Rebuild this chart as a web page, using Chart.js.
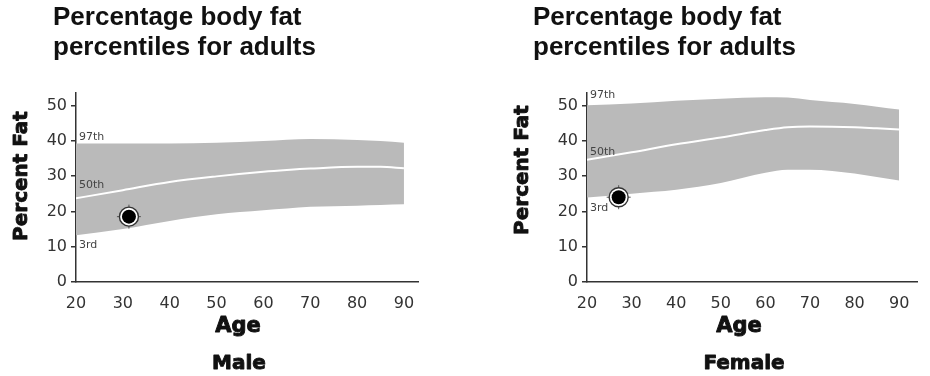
<!DOCTYPE html>
<html>
<head>
<meta charset="utf-8">
<script src="https://cdn.jsdelivr.net/npm/chart.js@4.4.1/dist/chart.umd.min.js"></script>
<style>
  body { margin: 0; background: #fff; }
  .panel { position: absolute; top: 0; }
</style>
</head>
<body>
<div class="panel" style="left:0"><canvas id="male" width="465" height="376"></canvas></div>
<div class="panel" style="left:465px"><canvas id="female" width="465" height="376"></canvas></div>
<script>
// ages where the percentile curves are sampled
const AGES = [20, 30, 40, 50, 60, 65, 70, 80, 85, 90]

// male percentiles (% body fat)
const MALE_P97 = [39.2, 39.2, 39.2, 39.4, 39.9, 40.3, 40.5, 40.2, 39.9, 39.4]
const MALE_P50 = [23.7, 26.0, 28.3, 29.9, 31.2, 31.7, 32.1, 32.6, 32.6, 32.2]
const MALE_P3  = [13.2, 15.0, 17.3, 19.2, 20.3, 20.8, 21.3, 21.6, 21.8, 22.0]

// female percentiles (% body fat)
const FEMALE_P97 = [50.0, 50.5, 51.3, 51.9, 52.3, 52.2, 51.5, 50.4, 49.6, 48.8]
const FEMALE_P50 = [34.6, 36.7, 39.0, 40.9, 43.0, 43.8, 44.0, 43.8, 43.5, 43.2]
const FEMALE_P3  = [23.9, 25.0, 26.1, 28.0, 30.9, 31.8, 31.8, 30.7, 29.7, 28.7]

// the person being plotted: [age, percent fat]
const MALE_MARK = [31.3, 18.5]
const FEMALE_MARK = [27.1, 24.0]

const X_TICKS = [20, 30, 40, 50, 60, 70, 80, 90]
const Y_TICKS = [0, 10, 20, 30, 40, 50]
const HEADING = ['Percentage body fat', 'percentiles for adults']
const CURVE_NAMES = ['97th', '50th', '3rd']

const BAND = '#bababa'
const INK = '#111'

function pts(ys) {
  return AGES.map((a, i) => ({ x: a, y: ys[i] }))
}

// heavy label: fill plus a thin stroke to fatten the glyphs
function heavyText(ctx, t, x, y) {
  ctx.fillText(t, x, y)
  ctx.strokeText(t, x, y)
}

// headings, axis titles and the percentile tags
const sheetText = {
  id: 'sheetText',
  afterDraw(chart, args, o) {
    const ctx = chart.ctx
    const xs = chart.scales.x
    const ys = chart.scales.y
    ctx.save()
    ctx.fillStyle = INK
    ctx.strokeStyle = INK
    ctx.lineWidth = 0.9
    ctx.lineJoin = 'round'
    ctx.textAlign = 'left'
    ctx.textBaseline = 'alphabetic'
    ctx.font = 'bold 26px "Liberation Sans", Arial, sans-serif'
    HEADING.forEach((t, i) => ctx.fillText(t, o.headX, 25 + i * 30))

    ctx.textAlign = 'center'
    ctx.font = 'bold 21px "DejaVu Sans", sans-serif'
    heavyText(ctx, 'Age', o.ageX, 332)
    ctx.font = 'bold 20px "DejaVu Sans", sans-serif'
    heavyText(ctx, o.sex, o.sexX, 369)

    // percentile tags next to the start of each curve
    ctx.font = '11px "DejaVu Sans", sans-serif'
    ctx.fillStyle = '#444'
    ctx.textAlign = 'left'
    const x0 = xs.getPixelForValue(AGES[0]) + 3
    o.curves.forEach((c, i) => {
      ctx.fillText(CURVE_NAMES[i], x0, ys.getPixelForValue(c[0]) + o.tagOffsets[i])
    })

    ctx.fillStyle = INK
    ctx.font = 'bold 20px "DejaVu Sans", sans-serif'
    ctx.textAlign = 'center'
    ctx.translate(o.yTitleX, o.yTitleY)
    ctx.rotate(-Math.PI / 2)
    heavyText(ctx, 'Percent Fat', 0, 0)
    ctx.restore()
  }
}

function makeChart(id, p97, p50, p3, mark, cfg) {
  const markPt = [{ x: mark[0], y: mark[1] }]
  const tickFont = { family: '"DejaVu Sans", sans-serif', size: 16 }
  return new Chart(document.getElementById(id), {
    type: 'line',
    data: {
      datasets: [
        { data: pts(p97), borderWidth: 0, borderColor: BAND, backgroundColor: BAND, fill: '+2', pointRadius: 0, cubicInterpolationMode: 'monotone', order: 4 },
        { data: pts(p50), borderWidth: 2, borderColor: '#fff', fill: false, pointRadius: 0, cubicInterpolationMode: 'monotone', order: 3 },
        { data: pts(p3), borderWidth: 0, borderColor: BAND, fill: false, pointRadius: 0, cubicInterpolationMode: 'monotone', order: 5 },
        { data: markPt, showLine: false, pointStyle: 'cross', pointRadius: 12, borderColor: '#555', borderWidth: 1, order: 2 },
        { data: markPt, showLine: false, pointStyle: 'circle', pointRadius: 9.5, backgroundColor: '#fff', borderColor: '#333', borderWidth: 1.4, order: 1 },
        { data: markPt, showLine: false, pointStyle: 'circle', pointRadius: 7, backgroundColor: '#000', borderColor: '#000', borderWidth: 0, order: 0 }
      ]
    },
    options: {
      responsive: false,
      animation: false,
      events: [],
      layout: { padding: { left: cfg.padLeft, right: cfg.padRight, top: 93, bottom: 0 } },
      plugins: {
        legend: { display: false },
        tooltip: { enabled: false },
        sheetText: cfg.text
      },
      scales: {
        x: {
          type: 'linear',
          min: 20,
          max: cfg.xMax,
          afterBuildTicks: s => { s.ticks = X_TICKS.map(v => ({ value: v })) },
          afterFit: s => { s.height = 94 },
          grid: { display: false },
          border: { display: true, color: '#333', width: 1.5 },
          ticks: { font: tickFont, color: '#333', padding: 4, maxRotation: 0 }
        },
        y: {
          min: 0,
          max: 53.5,
          afterBuildTicks: s => { s.ticks = Y_TICKS.map(v => ({ value: v })) },
          afterFit: s => { s.width = 76 },
          grid: { drawOnChartArea: false, tickLength: 5, color: '#333', lineWidth: 1.5 },
          border: { display: true, color: '#333', width: 1.5 },
          ticks: { font: tickFont, color: '#333', padding: 4 }
        }
      }
    },
    plugins: [sheetText]
  })
}

makeChart('male', MALE_P97, MALE_P50, MALE_P3, MALE_MARK, {
  padLeft: 0, padRight: 47, xMax: 93,
  text: {
    sex: 'Male', headX: 53, ageX: 238, sexX: 239, yTitleX: 27, yTitleY: 176,
    curves: [MALE_P97, MALE_P50, MALE_P3], tagOffsets: [-4, -10, 13]
  }
})

makeChart('female', FEMALE_P97, FEMALE_P50, FEMALE_P3, FEMALE_MARK, {
  padLeft: 46, padRight: 0, xMax: 94,
  text: {
    sex: 'Female', headX: 68, ageX: 274, sexX: 279, yTitleX: 63, yTitleY: 170,
    curves: [FEMALE_P97, FEMALE_P50, FEMALE_P3], tagOffsets: [-7, -5, 13]
  }
})
</script>
</body>
</html>
